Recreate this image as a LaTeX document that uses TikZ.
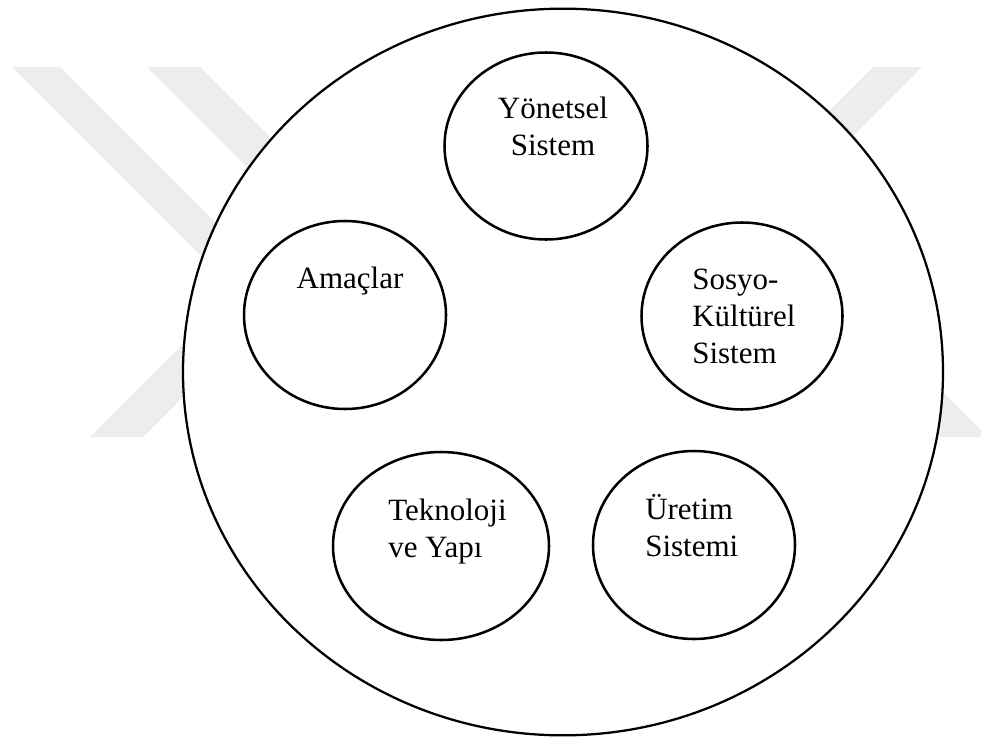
\documentclass[tikz,border=0pt]{standalone}
\usepackage{fontspec}
\setmainfont{Liberation Serif}
\usepackage{tikz}
\usetikzlibrary{shapes.geometric}

\begin{document}
\begin{tikzpicture}[x=0.75pt,y=-0.75pt,
    mark band/.style={fill=black!7,draw=none},
    outer/.style={ellipse,draw,line width=1.7pt,fill=white,inner sep=0pt},
    part/.style={ellipse,draw,line width=1.9pt,inner sep=0pt,
      minimum width=151.5pt,minimum height=141pt},
    txt/.style={inner sep=0pt,align=left,
      font=\rmfamily\fontsize{23.25pt}{27.4pt}\selectfont}]
    \useasboundingbox (0,0) rectangle (981,742);

    % watermark
    \fill[mark band] (12,67) -- (60,67) -- (430,437) -- (382,437) -- cycle;
    \fill[mark band] (147,67) -- (200,67) -- (500,367) -- (447,367) -- cycle;
    \fill[mark band] (873,67) -- (922,67) -- (672,317) -- (623,317) -- cycle;
    \fill[mark band] (90,437) -- (143,437) -- (253,327) -- (200,327) -- cycle;
    \fill[mark band] (935,437) -- (988,437) -- (928,377) -- (875,377) -- cycle;

    \node[outer,minimum width=570pt,minimum height=545pt] (org) at (563,372) {};

    \node[part,minimum width=152.25pt,minimum height=140.25pt] (yon) at (546,146) {};
    \node[part] (ama) at (345,315) {};
    \node[part,minimum width=150.75pt,minimum height=140.25pt] (sos) at (742,316) {};
    \node[part,minimum width=162pt] (tek) at (441,546) {};
    \node[part] (ure) at (694,545) {};

    % base of a multi-line node is its last line
    \node[txt,align=center,anchor=base] (yontxt) at ([shift={(7,9)}]yon.center) {Yönetsel\\Sistem};
    \node[txt,anchor=base] (amatxt) at ([shift={(5,-27)}]ama.center) {Amaçlar};
    \node[txt,anchor=base west] (sostxt) at ([shift={(-50,47)}]sos.center) {Sosyo-\\Kültürel\\Sistem};
    \node[txt,anchor=base west] (tektxt) at ([shift={(-53,11)}]tek.center) {Teknoloji\\ve Yapı};
    \node[txt,anchor=base west] (uretxt) at ([shift={(-49,11)}]ure.center) {Üretim\\Sistemi};
\end{tikzpicture}
\end{document}
